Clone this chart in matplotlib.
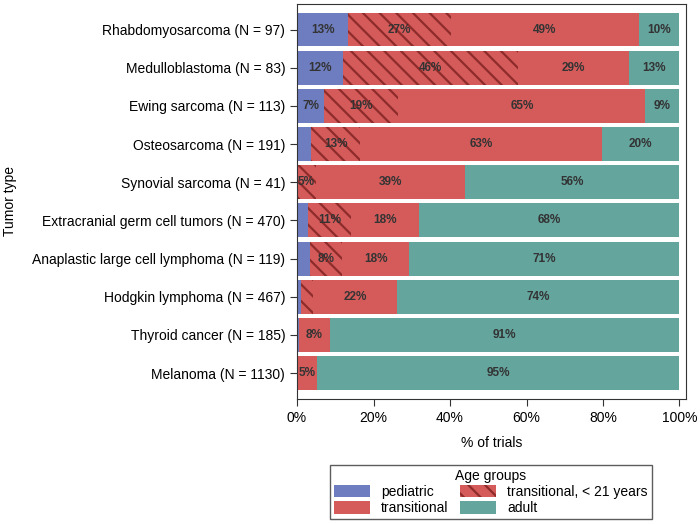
import matplotlib.pyplot as plt
import numpy as np

plt.rcParams['font.family'] = ['Liberation Sans', 'DejaVu Sans']
plt.rcParams['hatch.linewidth'] = 1.6

tumors = ['Rhabdomyosarcoma (N = 97)', 'Medulloblastoma (N = 83)', 'Ewing sarcoma (N = 113)',
          'Osteosarcoma (N = 191)', 'Synovial sarcoma (N = 41)',
          'Extracranial germ cell tumors (N = 470)', 'Anaplastic large cell lymphoma (N = 119)',
          'Hodgkin lymphoma (N = 467)', 'Thyroid cancer (N = 185)', 'Melanoma (N = 1130)']

pediatric = [13.4, 12.0, 7.1, 3.7, 0.0, 2.8, 3.4, 1.1, 0.5, 0.0]
trans_u21 = [26.8, 45.8, 19.4, 12.8, 4.9, 11.3, 8.4, 3.0, 0.0, 0.0]
transitional = [49.3, 28.9, 64.6, 63.3, 39.0, 17.9, 17.6, 22.1, 8.1, 5.2]
adult = [10.5, 13.3, 8.9, 20.2, 56.1, 68.0, 70.6, 73.8, 91.4, 94.8]

c_ped = '#6e7dbf'
c_trans = '#d55b5b'
c_adult = '#64a59e'
c_hatch = '#8e2b2b'

fig = plt.figure(figsize=(7, 5.24), dpi=100)
ax = fig.add_axes([0.4243, 0.2385, 0.5557, 0.754])

y = np.arange(len(tumors))
h = 0.89
left = np.zeros(len(tumors))
series = [(pediatric, 'pediatric', c_ped, None),
          (trans_u21, 'transitional, < 21 years', c_trans, '\\\\'),
          (transitional, 'transitional', c_trans, None),
          (adult, 'adult', c_adult, None)]
handles = {}
for vals, name, col, hatch in series:
    vals = np.array(vals)
    if hatch:
        b = ax.barh(y, vals, left=left, height=h, color=col, edgecolor=c_hatch,
                    linewidth=0, hatch=hatch, label=name)
    else:
        b = ax.barh(y, vals, left=left, height=h, color=col, linewidth=0, label=name)
    handles[name] = b
    for yi, v, l in zip(y, vals, left):
        if v >= 4.5:
            ax.text(l + v / 2, yi, '%d%%' % round(v), ha='center', va='center',
                    fontsize=8.5, fontweight='bold', color='#333333')
    left = left + vals

ax.set_xlim(0, 101.7)
ax.set_ylim(9.68, -0.67)
ax.set_yticks(y)
ax.set_yticklabels(tumors, fontsize=10)
ax.set_xticks([0, 20, 40, 60, 80, 100])
ax.set_xticklabels(['0%', '20%', '40%', '60%', '80%', '100%'], fontsize=10)
ax.tick_params(direction='out', length=5, color='#333333')
ax.set_xlabel('% of trials', fontsize=10, labelpad=8)
ax.set_ylabel('Tumor type', fontsize=10, labelpad=11)
for s in ax.spines.values():
    s.set_color('#333333')

order = ['pediatric', 'transitional', 'transitional, < 21 years', 'adult']
leg = fig.legend([handles[k] for k in order], order, ncol=2, title='Age groups',
                 loc='center', bbox_to_anchor=(0.701, 0.061), fontsize=10,
                 title_fontsize=10, frameon=True, fancybox=False, edgecolor='#333333',
                 handlelength=2.6, handleheight=1.0, columnspacing=0.8,
                 handletextpad=0.8, labelspacing=0.15, borderpad=0.3)
leg.get_frame().set_linewidth(1.0)

fig.savefig('out.png', dpi=100)
